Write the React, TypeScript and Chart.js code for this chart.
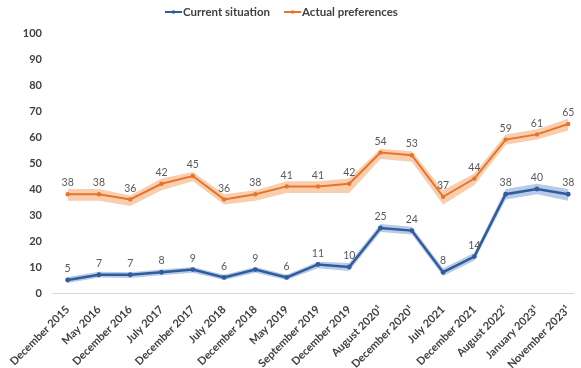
import React, { useEffect, useRef } from "react";
import { Chart, registerables } from "chart.js";
Chart.register(...registerables);

const categories = [
  "December 2015", "May 2016", "December 2016", "July 2017", "December 2017",
  "July 2018", "December 2018", "May 2019", "September 2019", "December 2019",
  "August 2020¹", "December 2020¹", "July 2021", "December 2021",
  "August 2022¹", "January 2023¹", "November 2023¹",
];
const currentSituation = [5, 7, 7, 8, 9, 6, 9, 6, 11, 10, 25, 24, 8, 14, 38, 40, 38];
const actualPreferences = [38, 38, 36, 42, 45, 36, 38, 41, 41, 42, 54, 53, 37, 44, 59, 61, 65];
const currentLow = [3.8, 6, 5.8, 6.8, 7.8, 5, 7.8, 5, 9.5, 8.5, 23.5, 22.5, 6.5, 12.5, 36, 38, 35.5];
const currentHigh = [6.2, 8.2, 8, 9, 10, 7, 10, 7, 12, 11.5, 26.5, 25.5, 9.5, 15.5, 40, 42, 40];
const prefLow = [35.5, 35.5, 33.5, 39.5, 43, 34, 35.5, 38.5, 38.5, 38.5, 51.5, 50.5, 34, 41.5, 57, 59, 62.5];
const prefHigh = [40, 40, 37.5, 44, 46.5, 38, 39.5, 43, 43, 44, 55.5, 54.5, 39.5, 46, 61, 63, 67];
const yTicks = [0, 10, 20, 30, 40, 50, 60, 70, 80, 90, 100];
const seriesNames = ["Current situation", "Actual preferences"];

const BLUE = "#2F5C9B";
const ORANGE = "#E8742A";
const FONT = "Lato, 'Open Sans', sans-serif";

const pts = (arr: number[]) => arr.map((y, x) => ({ x, y }));

export default function App() {
  const ref = useRef<HTMLCanvasElement | null>(null);
  useEffect(() => {
    document.body.style.margin = "0";
    const canvas = ref.current!;
    const labelPlugin = {
      id: "valueLabels",
      afterDatasetsDraw(chart: any) {
        const ctx = chart.ctx;
        ctx.save();
        ctx.font = `10.5px ${FONT}`;
        ctx.fillStyle = "#595959";
        ctx.textAlign = "center";
        ctx.textBaseline = "bottom";
        [4, 5].forEach((di) => {
          const meta = chart.getDatasetMeta(di);
          const data = chart.data.datasets[di].data;
          meta.data.forEach((p: any, i: number) => {
            ctx.fillText(String(data[i].y), p.x, p.y - 6);
          });
        });
        ctx.restore();
      },
    };
    const baselinePlugin = {
      id: "baseline",
      beforeDatasetsDraw(chart: any) {
        const ctx = chart.ctx;
        const y = chart.scales.y.getPixelForValue(0);
        ctx.save();
        ctx.strokeStyle = "#d9d9d9";
        ctx.lineWidth = 1;
        ctx.beginPath();
        ctx.moveTo(chart.chartArea.left, y + 0.5);
        ctx.lineTo(chart.chartArea.right, y + 0.5);
        ctx.stroke();
        ctx.restore();
      },
    };
    const legendPlugin = {
      id: "customLegend",
      afterDraw(chart: any) {
        const ctx = chart.ctx;
        ctx.save();
        ctx.font = `bold 11.5px ${FONT}`;
        ctx.textBaseline = "middle";
        const colors = [BLUE, ORANGE];
        let x = 165;
        const y = 12;
        seriesNames.forEach((name, i) => {
          ctx.strokeStyle = colors[i];
          ctx.lineWidth = 2;
          ctx.beginPath();
          ctx.moveTo(x, y);
          ctx.lineTo(x + 17, y);
          ctx.stroke();
          ctx.fillStyle = colors[i];
          ctx.beginPath();
          ctx.arc(x + 8.5, y, 1.8, 0, Math.PI * 2);
          ctx.fill();
          ctx.fillStyle = "#404040";
          ctx.textAlign = "left";
          ctx.fillText(name, x + 18, y);
          x += 18 + ctx.measureText(name).width + 14;
        });
        ctx.restore();
      },
    };
    const chart = new Chart(canvas, {
      type: "line",
      data: {
        datasets: [
          { data: pts(prefHigh), borderWidth: 0, pointRadius: 0, fill: "+1", backgroundColor: "rgba(244,165,110,0.55)", order: 3 },
          { data: pts(prefLow), borderWidth: 0, pointRadius: 0, fill: false, order: 3 },
          { data: pts(currentHigh), borderWidth: 0, pointRadius: 0, fill: "+1", backgroundColor: "rgba(95,140,205,0.45)", order: 3 },
          { data: pts(currentLow), borderWidth: 0, pointRadius: 0, fill: false, order: 3 },
          { label: seriesNames[0], data: pts(currentSituation), borderColor: BLUE, backgroundColor: BLUE, borderWidth: 2.5, pointRadius: 1.2, fill: false, order: 1 },
          { label: seriesNames[1], data: pts(actualPreferences), borderColor: ORANGE, backgroundColor: ORANGE, borderWidth: 2, pointRadius: 1.2, fill: false, order: 1 },
        ] as any,
      },
      options: {
        animation: false,
        responsive: false,
        maintainAspectRatio: false,
        layout: { padding: { top: 33, right: 6, left: 0, bottom: 0 } },
        plugins: { legend: { display: false }, tooltip: { enabled: false } },
        scales: {
          x: {
            type: "linear",
            min: -0.5,
            max: 16.2,
            grid: { display: false },
            border: { display: false },
            afterBuildTicks: (s: any) => { s.ticks = categories.map((_, i) => ({ value: i })); },
            afterFit: (s: any) => { s.height = 75; },
            ticks: {
              autoSkip: false,
              minRotation: 45,
              maxRotation: 45,
              padding: 2,
              color: "#404040",
              font: { family: FONT, size: 11, weight: "bold" },
              callback: (v: any) => categories[v],
            },
          },
          y: {
            min: 0,
            max: 100,
            grid: { display: false, drawTicks: false },
            border: { display: false },
            afterBuildTicks: (s: any) => { s.ticks = yTicks.map((v) => ({ value: v })); },
            afterFit: (s: any) => { s.width = 52; },
            ticks: {
              padding: 10,
              color: "#404040",
              font: { family: FONT, size: 11, weight: "bold" },
            },
          },
        },
      },
      plugins: [baselinePlugin, labelPlugin, legendPlugin],
    });
    return () => chart.destroy();
  }, []);
  return <canvas ref={ref} width={581} height={368} style={{ display: "block" }} />;
}
